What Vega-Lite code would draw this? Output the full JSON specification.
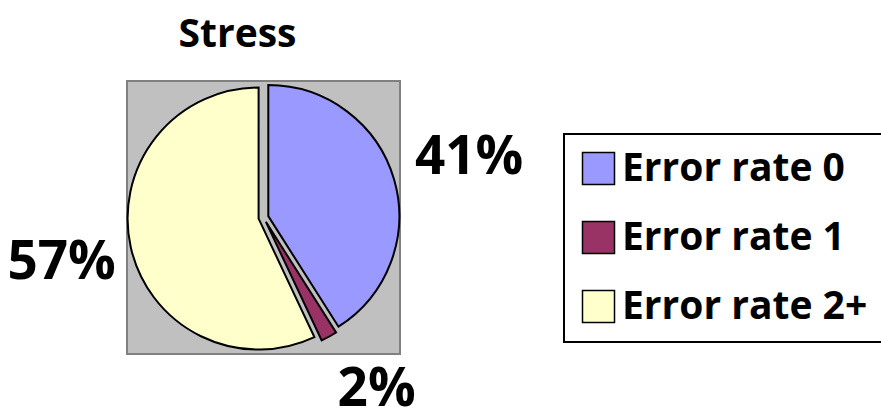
{
  "$schema": "https://vega.github.io/schema/vega-lite/v6.json",
  "width": 273,
  "height": 273,
  "autosize": {"type": "none"},
  "padding": {"left": 127, "top": 81, "right": 481, "bottom": 66},
  "background": "white",
  "config": {
    "view": {"stroke": null},
    "font": "Open Sans",
    "legend": {"strokeWidth": 2}
  },
  "title": {
    "text": "Stress",
    "fontSize": 39,
    "fontWeight": "bold",
    "font": "Open Sans",
    "color": "black",
    "anchor": "middle",
    "dx": -26,
    "offset": 25
  },
  "data": {
    "values": [
      {"category": "Error rate 0", "value": 41, "order": 1, "label": "41%"},
      {"category": "Error rate 1", "value": 2, "order": 2, "label": "2%"},
      {"category": "Error rate 2+", "value": 57, "order": 3, "label": "57%"}
    ]
  },
  "layer": [
    {
      "data": {"values": [{"panel": "background"}]},
      "mark": {"type": "rect", "fill": "#C0C0C0", "stroke": "#808080", "strokeWidth": 2},
      "encoding": {
        "x": {"value": 0},
        "x2": {"value": "width"},
        "y": {"value": 0},
        "y2": {"value": "height"}
      }
    },
    {
      "transform": [
        {"stack": "value", "sort": [{"field": "order"}], "as": ["v0", "v1"]},
        {"filter": "datum.order == 1"}
      ],
      "mark": {"type": "arc", "outerRadius": 131, "stroke": "black", "strokeWidth": 2, "xOffset": 4.8, "yOffset": -1.4},
      "encoding": {
        "theta": {"field": "v0", "type": "quantitative", "scale": {"domain": [0, 100], "range": [0, 6.2832]}},
        "theta2": {"field": "v1"},
        "color": {
          "field": "category",
          "type": "nominal",
          "scale": {"domain": ["Error rate 0", "Error rate 1", "Error rate 2+"], "range": ["#9999FF", "#993366", "#FFFFCC"]},
          "legend": {
            "title": null,
            "orient": "none",
            "legendX": 437,
            "legendY": 53,
            "symbolType": "square",
            "symbolSize": 1024,
            "symbolStrokeColor": "black",
            "symbolStrokeWidth": 1.5,
            "symbolOpacity": 1,
            "labelFont": "Open Sans",
            "labelFontWeight": "bold",
            "labelFontSize": 39,
            "labelColor": "black",
            "labelLimit": 400,
            "rowPadding": 29,
            "padding": 15,
            "strokeColor": "black",
            "fillColor": "white"
          }
        }
      }
    },
    {
      "transform": [
        {"stack": "value", "sort": [{"field": "order"}], "as": ["v0", "v1"]},
        {"filter": "datum.order == 2"}
      ],
      "mark": {"type": "arc", "outerRadius": 131, "stroke": "black", "strokeWidth": 2, "xOffset": 2.4, "yOffset": 4.4},
      "encoding": {
        "theta": {"field": "v0", "type": "quantitative", "scale": {"domain": [0, 100], "range": [0, 6.2832]}},
        "theta2": {"field": "v1"},
        "color": {"field": "category", "type": "nominal"}
      }
    },
    {
      "transform": [
        {"stack": "value", "sort": [{"field": "order"}], "as": ["v0", "v1"]},
        {"filter": "datum.order == 3"}
      ],
      "mark": {"type": "arc", "outerRadius": 131, "stroke": "black", "strokeWidth": 2, "xOffset": -4.9, "yOffset": 1.1},
      "encoding": {
        "theta": {"field": "v0", "type": "quantitative", "scale": {"domain": [0, 100], "range": [0, 6.2832]}},
        "theta2": {"field": "v1"},
        "color": {"field": "category", "type": "nominal"}
      }
    },
    {
      "mark": {"type": "text", "radius": 212, "fontSize": 53, "fontWeight": "bold", "font": "Open Sans", "color": "black", "dx": 2, "dy": 0},
      "encoding": {
        "theta": {"field": "value", "type": "quantitative", "stack": true, "scale": {"domain": [0, 100], "range": [0, 6.2832]}},
        "order": {"field": "order"},
        "text": {"condition": {"test": "datum.order == 1", "field": "label"}, "value": ""}
      }
    },
    {
      "mark": {"type": "text", "radius": 212, "fontSize": 53, "fontWeight": "bold", "font": "Open Sans", "color": "black", "dx": 11, "dy": -13},
      "encoding": {
        "theta": {"field": "value", "type": "quantitative", "stack": true, "scale": {"domain": [0, 100], "range": [0, 6.2832]}},
        "order": {"field": "order"},
        "text": {"condition": {"test": "datum.order == 2", "field": "label"}, "value": ""}
      }
    },
    {
      "mark": {"type": "text", "radius": 212, "fontSize": 53, "fontWeight": "bold", "font": "Open Sans", "color": "black", "dx": 5, "dy": -1},
      "encoding": {
        "theta": {"field": "value", "type": "quantitative", "stack": true, "scale": {"domain": [0, 100], "range": [0, 6.2832]}},
        "order": {"field": "order"},
        "text": {"condition": {"test": "datum.order == 3", "field": "label"}, "value": ""}
      }
    }
  ]
}
